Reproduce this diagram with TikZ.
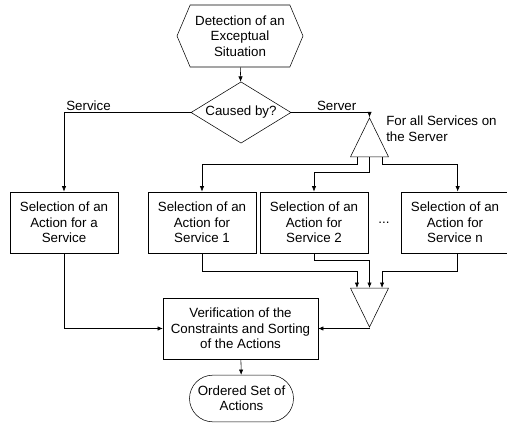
\documentclass[tikz,border=0pt]{standalone}
\usepackage{fontspec}
\setmainfont{Liberation Sans}
\usetikzlibrary{shapes.geometric,shapes.symbols,shapes.misc,arrows.meta}

\begin{document}
\begin{tikzpicture}[
          x=0.75pt, y=-0.75pt,
          every node/.style={align=center, font=\fontsize{10}{11.6}\selectfont},
          box/.style={draw, minimum width=81pt, minimum height=46pt, inner sep=1pt},
          start/.style={draw, signal, signal to=west and east, signal pointer angle=134,
                        minimum width=94.5pt, minimum height=46.5pt, inner sep=1pt},
          decision/.style={draw, diamond, aspect=1.63, inner sep=0pt,
                        minimum width=75pt, minimum height=46pt},
          branch/.style={draw, isosceles triangle, isosceles triangle apex angle=52,
                        minimum size=28.5pt, inner sep=0pt},
          terminal/.style={draw, rounded rectangle, minimum width=80pt, minimum height=35pt, inner sep=1pt},
          flow/.style={-{Latex[length=4pt,width=3.2pt]}},
          note/.style={inner sep=1.5pt}
        ]
        \useasboundingbox (0,0) rectangle (507,423);

        % Top (start and decision)
        \node[start] (detect) at (240,36) {Detection of an\\Exceptual\\Situation};
        \node[decision] (cause) at (241,112.5) {Caused by?};

        % Split for all services
        \node[branch, shape border rotate=90] (split) at (369.5,145) {};
        \node[note, anchor=north west, align=left] (allnote) at (384,114) {For all Services on\\the Server};

        % Row of selections
        \node[box] (selservice) at (64,222.5) {Selection of an\\Action for a\\Service};
        \node[box] (selone) at (202,222.5) {Selection of an\\Action for\\Service 1};
        \node[box] (seltwo) at (314,222.5) {Selection of an\\Action for\\Service 2};
        \node (dots) at (384,223) {...};
        \node[box] (selnth) at (455,222.5) {Selection of an\\Action for\\Service n};

        % Join and result
        \node[branch, shape border rotate=270] (join) at (369.5,300) {};
        \node[box, minimum width=116pt] (verify) at (240.5,328.5) {Verification of the\\Constraints and Sorting\\of the Actions};
        \node[terminal] (result) at (241.5,398.5) {Ordered Set of\\Actions};

        % Connectors
        \draw[flow] (detect) -- (cause);
        \draw[flow] (cause.west) -| node[note, pos=0.5, anchor=south west] {Service} (selservice.north);
        \draw[flow] (cause.east) -| node[note, pos=0.29, anchor=south] {Server} (split.north);

        \draw[flow] ([xshift=-9.4pt]split.south) -- ++(0,7) -| (selone.north);
        \draw[flow] (split.south) -- ++(0,15) -| (seltwo.north);
        \draw[flow] ([xshift=9.4pt]split.south) -- ++(0,7) -| ([xshift=2pt]selnth.north);

        \draw[flow] (selone.south) -- ++(0,18) -| ([xshift=-9.4pt]join.north);
        \draw[flow] (seltwo.south) -- ++(0,7) -| (join.north);
        \draw[flow] ([xshift=2pt]selnth.south) -- ++(0,18) -| ([xshift=9.4pt]join.north);

        \draw[flow] (join.south) |- (verify.east);
        \draw[flow] (selservice.south) |- (verify.west);
        \draw[flow] (verify) -- (result);

      \end{tikzpicture}
\end{document}
